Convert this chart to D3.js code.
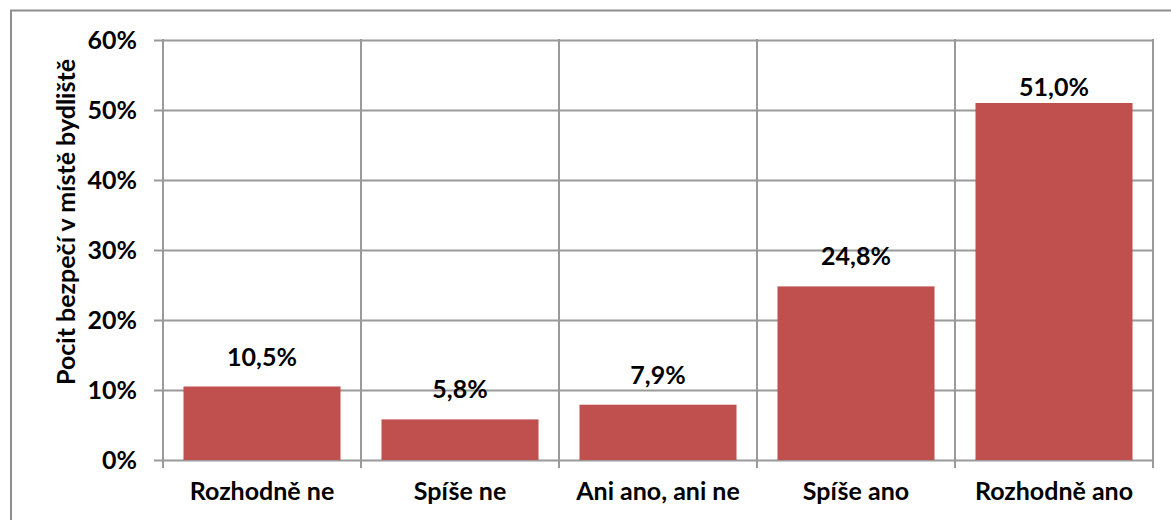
<!DOCTYPE html>
<html>
<head>
<meta charset="utf-8">
<script src="https://cdn.jsdelivr.net/npm/d3@7"></script>
<style>
  html, body { margin: 0; padding: 0; background: #fff; }
  svg { display: block; }
  text { font-family: Lato, "Open Sans", sans-serif; font-weight: bold; fill: #000; }
</style>
</head>
<body>
<svg id="chart" width="1171" height="520"></svg>
<script>
const categories = ["Rozhodně ne", "Spíše ne", "Ani ano, ani ne", "Spíše ano", "Rozhodně ano"];
const values = [10.5, 5.8, 7.9, 24.8, 51.0];
const yTicks = [0, 10, 20, 30, 40, 50, 60];
const yTitle = "Pocit bezpečí v místě bydliště";

(function () {
const svg = d3.select("#chart");
const pLeft = 163, pRight = 1153, pTop = 40, pBottom = 460;
const gridColor = "#9a9a9a";
const fs = 25;

// outer border
svg.append("rect")
  .attr("x", 11).attr("y", 10.5).attr("width", 1300).attr("height", 700)
  .attr("fill", "none").attr("stroke", "#8e8e8e").attr("stroke-width", 2);

const x = d3.scaleBand().domain(categories).range([pLeft, pRight])
  .paddingInner(0.207).paddingOuter(0.1035);
const y = d3.scaleLinear().domain([0, 60]).range([pBottom, pTop]);

// horizontal gridlines + ticks
const yAxis = d3.axisLeft(y).tickValues(yTicks).tickFormat(d => d + "%")
  .tickSize(-(pRight - pLeft)).tickSizeOuter(0).tickPadding(26);
const gy = svg.append("g").attr("transform", `translate(${pLeft},0)`).call(yAxis);
gy.select(".domain").remove();
gy.selectAll(".tick line").attr("stroke", gridColor).attr("stroke-width", 2)
  .attr("x1", -9);
gy.selectAll(".tick text").attr("font-size", fs).attr("font-family", null)
  .attr("dy", "0.33em");

// vertical gridlines at category boundaries
const bounds = categories.map(c => x(c) - x.step() * x.paddingOuter()).concat([pRight]);
svg.append("g").selectAll("line").data(bounds).join("line")
  .attr("x1", d => d).attr("x2", d => d)
  .attr("y1", pTop - 1).attr("y2", pBottom + 8)
  .attr("stroke", gridColor).attr("stroke-width", 2);

// bars
svg.append("g").selectAll("rect").data(values).join("rect")
  .attr("x", (d, i) => x(categories[i]))
  .attr("width", x.bandwidth())
  .attr("y", d => y(d))
  .attr("height", d => y(0) - y(d))
  .attr("fill", "#C0504D");

// value labels
const fmt = v => v.toFixed(1).replace(".", ",") + "%";
svg.append("g").selectAll("text").data(values).join("text")
  .attr("x", (d, i) => x(categories[i]) + x.bandwidth() / 2)
  .attr("y", d => Math.max(y(d) - 21, 96))
  .attr("text-anchor", "middle")
  .attr("font-size", fs)
  .text(fmt);

// category labels
svg.append("g").selectAll("text").data(categories).join("text")
  .attr("x", c => x(c) + x.bandwidth() / 2)
  .attr("y", 500)
  .attr("text-anchor", "middle")
  .attr("font-size", fs)
  .text(c => c);

// y title
svg.append("text")
  .attr("transform", "translate(75,222) rotate(-90)")
  .attr("text-anchor", "middle")
  .attr("font-size", fs)
  .text(yTitle);
})();
</script>
</body>
</html>
